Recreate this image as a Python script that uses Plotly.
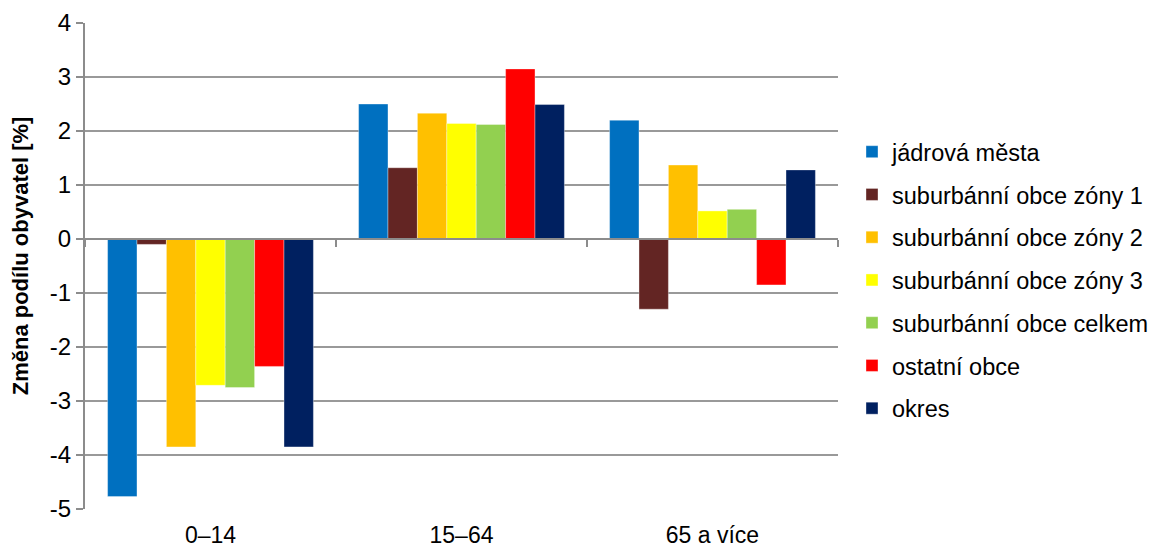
import plotly.graph_objects as go

categories = ["0–14", "15–64", "65 a více"]
series_names = [
    "jádrová města",
    "suburbánní obce zóny 1",
    "suburbánní obce zóny 2",
    "suburbánní obce zóny 3",
    "suburbánní obce celkem",
    "ostatní obce",
    "okres",
]
jadrova_mesta = [-4.77, 2.50, 2.20]
zona_1 = [-0.10, 1.32, -1.30]
zona_2 = [-3.85, 2.33, 1.37]
zona_3 = [-2.71, 2.14, 0.52]
celkem = [-2.75, 2.12, 0.55]
ostatni = [-2.36, 3.15, -0.85]
okres = [-3.85, 2.49, 1.28]
series_values = [jadrova_mesta, zona_1, zona_2, zona_3, celkem, ostatni, okres]
colors = ["#0070C0", "#632523", "#FFC000", "#FFFF00", "#92D050", "#FF0000", "#002060"]
y_ticks = [-5, -4, -3, -2, -1, 0, 1, 2, 3, 4]

font = "Liberation Sans, Arial, sans-serif"
fig = go.Figure()
for name, vals, col in zip(series_names, series_values, colors):
    fig.add_trace(go.Bar(
        x=categories, y=vals, name=name, legendgroup=name,
        marker=dict(color=col, line=dict(width=0.6, color="rgba(255,255,255,0.6)")),
    ))

# helper axis at y=0 for boundary tick marks
fig.add_trace(go.Scatter(x=categories, y=[0, 0, 0], xaxis="x2", mode="markers",
                         marker=dict(opacity=0), showlegend=False, hoverinfo="skip"))

fig.update_layout(
    width=1158, height=547,
    margin=dict(l=77, r=328, t=15, b=46, autoexpand=False),
    paper_bgcolor="white", plot_bgcolor="white",
    barmode="group", bargap=0.18, bargroupgap=0,
    font=dict(family=font, size=24, color="black"),
    showlegend=True,
    legend=dict(x=1.0186, xanchor="left", y=0.780, yanchor="top",
                font=dict(size=23.5, family=font), tracegroupgap=9.2,
                itemwidth=30, bgcolor="rgba(0,0,0,0)"),
    xaxis=dict(type="category", categoryorder="array", categoryarray=categories,
               showline=False, showgrid=False, zeroline=False, automargin=False,
               ticks="outside", ticklen=5, tickcolor="rgba(0,0,0,0)",
               tickfont=dict(size=23, family=font)),
    xaxis2=dict(type="category", categoryorder="array", categoryarray=categories,
                overlaying="x", anchor="free", position=5/9, side="bottom",
                showline=True, linecolor="#8c8c8c", linewidth=2,
                ticks="outside", tickson="boundaries", ticklen=7, tickwidth=2,
                tickcolor="#8c8c8c", showticklabels=False, showgrid=False,
                zeroline=False, matches="x"),
    yaxis=dict(range=[-5, 4], tickvals=y_ticks, ticktext=[str(v) for v in y_ticks],
               showgrid=True, gridcolor="#999999", gridwidth=1.5, automargin=False,
               zeroline=False, showline=True, linecolor="#8c8c8c", linewidth=2,
               ticks="outside", ticklen=7, tickwidth=2, tickcolor="#8c8c8c",
               tickfont=dict(size=24, family=font)),
    annotations=[dict(text="<b>Změna podílu obyvatel [%]</b>", textangle=-90,
                      xref="paper", yref="paper", x=-0.0863, y=0.520,
                      xanchor="center", yanchor="middle", showarrow=False,
                      font=dict(size=22, family=font))],
)

fig.write_html("out.html")
